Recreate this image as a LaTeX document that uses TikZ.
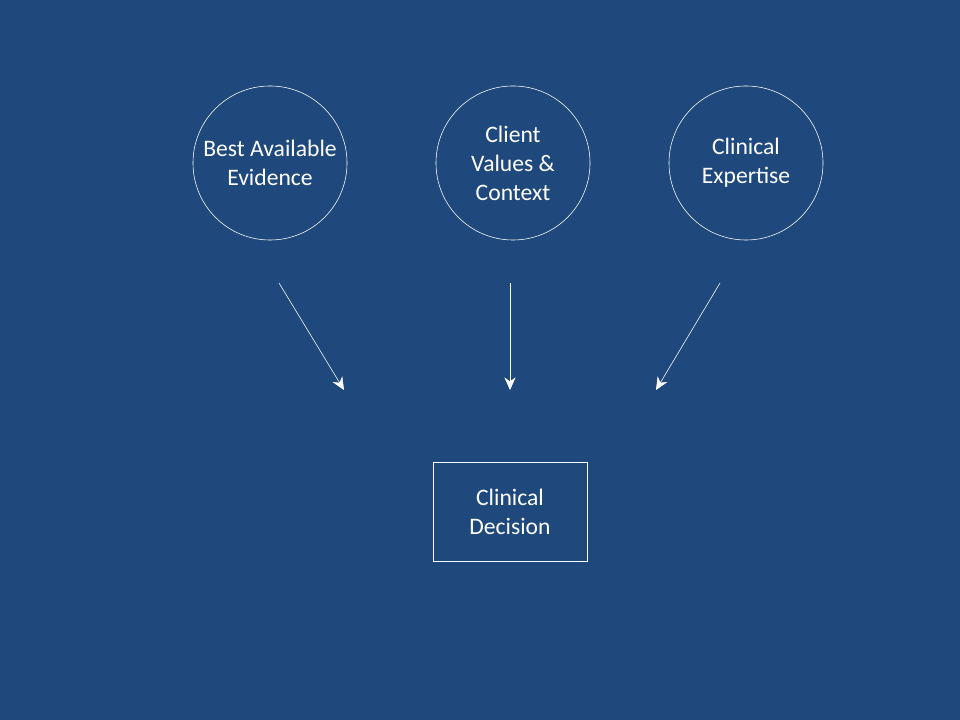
\documentclass[tikz,border=0pt]{standalone}
\usepackage{fontspec}
\setmainfont{Carlito}
\usetikzlibrary{arrows.meta,positioning}
\definecolor{bgblue}{RGB}{31,73,125}

\begin{document}
\begin{tikzpicture}[x=0.025cm,y=-0.025cm,->,>={Stealth[length=9pt,width=8pt]},
		thin,white,font=\fontsize{16.8}{20.6}\selectfont,
		base node/.style={circle,draw,minimum size=3.85cm,inner sep=0pt,align=center},
		box node/.style={rectangle,draw,minimum width=3.85cm,minimum height=2.48cm,align=center}]
		
		\fill[bgblue] (0,0) rectangle (960,720);
		
		\node[base node](ev) at (270,163){Best Available\\Evidence};
		\node[base node](cv) at (513,163){Client\\Values \&\\Context};
		\node[base node](ce) at (746,163){Clinical\\Expertise};
		\node[box node](cd) at (510,511.5){Clinical\\Decision};
		
		\coordinate (ev1) at (279,283);
		\coordinate (ev2) at (344,390);
		\coordinate (cv1) at (510,283);
		\coordinate (cv2) at (510,390);
		\coordinate (ce1) at (720,283);
		\coordinate (ce2) at (656,390);
		
		\path[]
		(ev1) edge (ev2)
		(cv1) edge (cv2)
		(ce1) edge (ce2);
		
	\end{tikzpicture}
\end{document}
